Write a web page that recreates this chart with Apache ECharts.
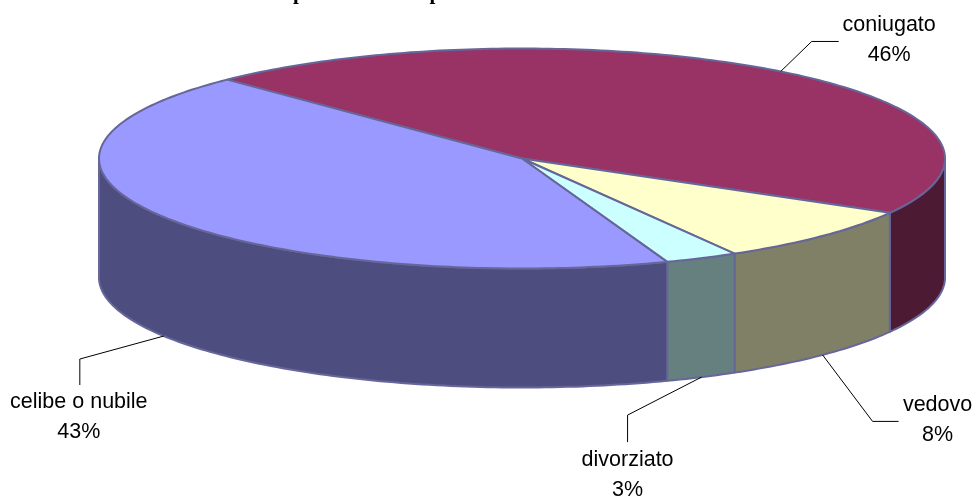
<!DOCTYPE html>
<html>
<head>
<meta charset="utf-8">
<style>html,body{margin:0;padding:0;background:#fff}#c{width:979px;height:498px}</style>
<script src="https://cdn.jsdelivr.net/npm/echarts@6/dist/echarts.min.js"></script>
</head>
<body>
<div id="c"></div>
<script>
// Data, clockwise from the first slice
const categories = ['coniugato', 'vedovo', 'divorziato', 'celibe o nubile'];
const shares = [45.5, 8.4, 2.8, 43.3];
const titleText = 'Ripartizione dati per stato civile al 30 novembre 2001';

// Styles and layout
const topColors = ['#993366', '#FFFFCC', '#CCFFFF', '#9999FF'];
const sideColors = ['#4D1A33', '#808066', '#668080', '#4D4D80'];
const edgeColor = '#666699';
const disc = {cx: 522, cy: 158.5, rx: 423, ry: 110, depth: 119, start: 315.8};
// offsets from each slice's anchor: elbow, line end, label centre
const labelLayout = [
  {rim: 'top', elbow: [31, -30], end: [58, -30], text: [108.5, -31.5]},
  {rim: 'bottom', elbow: [50, 66.5], end: [76, 66.5], text: [115, 65.5]},
  {rim: 'bottom', elbow: [-74, 38], end: [-74, 65], text: [-74, 97.7]},
  {rim: 'bottom', elbow: [-84, 23], end: [-84, 49], text: [-85, 81]}
];

const total = shares.reduce((a, b) => a + b, 0);
const slices = [];
shares.reduce((from, v) => {
  const to = from + v / total * 360;
  slices.push([from, to]);
  return to;
}, disc.start);

function rimPoint(deg, dy) {
  const r = deg * Math.PI / 180;
  return [disc.cx + disc.rx * Math.sin(r), disc.cy - disc.ry * Math.cos(r) + (dy || 0)];
}
function arc(a, b, dy) {
  const pts = [], n = Math.max(2, Math.ceil(Math.abs(b - a)));
  for (let i = 0; i <= n; i++) pts.push(rimPoint(a + (b - a) * i / n, dy));
  return pts;
}

function renderSide(params) {
  const i = params.dataIndex, [a, b] = slices[i], children = [];
  [0, 360].forEach(k => {
    const lo = Math.max(a, 90 + k), hi = Math.min(b, 270 + k);
    if (hi > lo) {
      children.push({
        type: 'polygon',
        shape: {points: arc(lo, hi, 0).concat(arc(hi, lo, disc.depth))},
        style: {fill: sideColors[i], stroke: edgeColor, lineWidth: 2, lineJoin: 'round'}
      });
    }
  });
  return {type: 'group', children};
}
function renderTop(params) {
  const i = params.dataIndex, [a, b] = slices[i];
  return {
    type: 'polygon',
    shape: {points: [[disc.cx, disc.cy]].concat(arc(a, b, 0))},
    style: {fill: topColors[i], stroke: edgeColor, lineWidth: 2, lineJoin: 'round'}
  };
}
function renderLabel(params, api) {
  const i = params.dataIndex, [a, b] = slices[i], L = labelLayout[i];
  const p = rimPoint((a + b) / 2, L.rim === 'bottom' ? disc.depth : 0);
  const off = o => [p[0] + o[0], p[1] + o[1]];
  return {
    type: 'group',
    children: [
      {type: 'polyline', shape: {points: [p, off(L.elbow), off(L.end)]},
       style: {fill: null, stroke: '#000', lineWidth: 1}},
      {type: 'text',
       style: {
         text: categories[i] + '\n' + Math.round(api.value(0)) + '%',
         x: off(L.text)[0], y: off(L.text)[1],
         align: 'center', verticalAlign: 'middle',
         font: '21.5px "Liberation Sans", Arial, sans-serif',
         lineHeight: 30, fill: '#000'
       }}
    ]
  };
}

const chart = echarts.init(document.getElementById('c'), null, {renderer: 'canvas'});
chart.setOption({
  animation: false,
  backgroundColor: '#fff',
  title: {
    text: titleText, left: 267, top: -22,
    textStyle: {fontFamily: '"Liberation Serif", serif', fontWeight: 'bold', fontSize: 21, color: '#000'}
  },
  series: [
    {type: 'custom', coordinateSystem: 'none', renderItem: renderSide, data: shares, z: 1, silent: true},
    {type: 'custom', coordinateSystem: 'none', renderItem: renderTop, data: shares, z: 2, silent: true},
    {type: 'custom', coordinateSystem: 'none', renderItem: renderLabel, data: shares, z: 3, silent: true}
  ]
});
</script>
</body>
</html>
